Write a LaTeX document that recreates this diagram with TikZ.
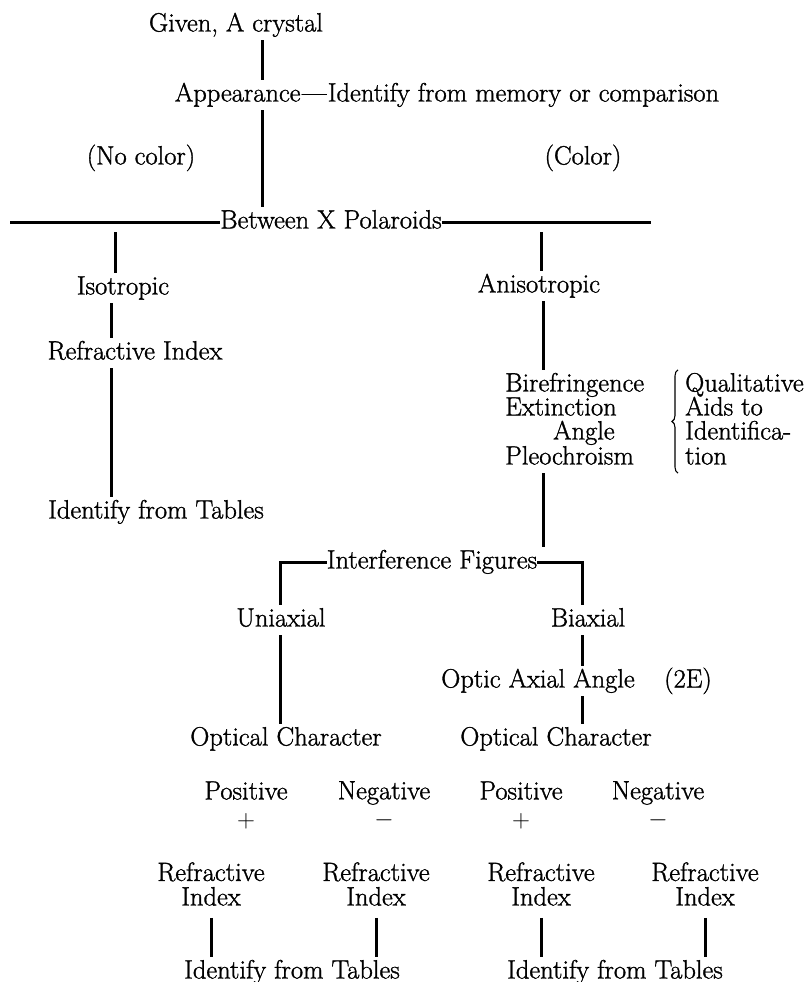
\documentclass[tikz,border=0pt]{standalone}
\usepackage{fontspec}
\setmainfont{Latin Modern Roman}[FakeBold=1.2]
\usetikzlibrary{decorations.pathreplacing}
\tikzset{
  lbl/.style={inner xsep=0pt, inner ysep=3pt, text height=18.5pt, text depth=5.5pt,
              font=\fontsize{26.5}{24.5}\selectfont},
  lbltwo/.style={inner xsep=0pt, inner ysep=12pt, align=center,
              font=\fontsize{26.5}{24.5}\selectfont},
  conn/.style={line width=3pt},
  bracestyle/.style={decorate, decoration={brace, amplitude=6pt}, line width=1.1pt}
}
\begin{document}
\begin{tikzpicture}[x=1pt,y=-1pt]
\useasboundingbox (0,0) rectangle (806,982);
% column coordinates
\coordinate (x1) at (262,0);
\coordinate (x2) at (111,0);
\coordinate (x3) at (543,0);
\coordinate (xu) at (280,0);
\coordinate (xb) at (582,0);
\coordinate (hl) at (10,222);
\coordinate (hr) at (651,222);
\coordinate (tl) at (115,232);
\coordinate (tr) at (541,232);
% nodes
\node[lbl] (given) at (236,25) {Given, A crystal};
\node[lbl] (app) at (447,95) {Appearance\kern1.5pt---\kern1.5pt Identify from memory or comparison};
\node[lbl] (nocol) at (141,158) {(No color)};
\node[lbl] (col) at (583,158) {(Color)};
\node[lbl] (betw) at (331,222) {Between X Polaroids};
\node[lbl] (iso) at (123,288) {Isotropic};
\node[lbl] (aniso) at (539,286) {Anisotropic};
\node[lbl] (ri0) at (135,353) {Refractive Index};
\node[lbl] (id0) at (156,512) {Identify from Tables};
\node[lbl,anchor=west] (bire) at (505,385) {Birefringence};
\node[lbl,anchor=west] (ext) at (505,409) {Extinction};
\node[lbl,anchor=west] (ang) at (553,433) {Angle};
\node[lbl,anchor=west] (pleo) at (505,458) {Pleochroism};
\node[lbl,anchor=west] (q1) at (685,385) {Qualitative};
\node[lbl,anchor=west] (q2) at (685,409) {Aids to};
\node[lbl,anchor=west] (q3) at (685,433) {Identifica-};
\node[lbl,anchor=west] (q4) at (685,458) {tion};
\node[lbl] (interf) at (432,562) {Interference Figures};
\node[lbl] (uni) at (281,620) {Uniaxial};
\node[lbl] (bi) at (588,620) {Biaxial};
\node[lbl] (oa) at (538,681) {Optic Axial Angle};
\node[lbl] (twoe) at (688,681) {(2E)};
\node[lbl] (oc1) at (286,739) {Optical Character};
\node[lbl] (oc2) at (556,739) {Optical Character};
\node[lbltwo] (p1) at (246,805) {Positive\\[3pt]$+$};
\node[lbltwo] (n1) at (384,805) {Negative\\[3pt]$-$};
\node[lbltwo] (p2) at (521,805) {Positive\\[3pt]$+$};
\node[lbltwo] (n2) at (658,805) {Negative\\[3pt]$-$};
\node[lbltwo] (ri1) at (211,884) {Refractive\\Index};
\node[lbltwo] (ri2) at (376,884) {Refractive\\Index};
\node[lbltwo] (ri3) at (541,884) {Refractive\\Index};
\node[lbltwo] (ri4) at (705,884) {Refractive\\Index};
\node[lbl] (id1) at (292,972) {Identify from Tables};
\node[lbl] (id2) at (615,972) {Identify from Tables};
% connectors
\draw[conn] (given.south -| x1) -- (app.north -| x1);
\draw[conn] (app.south -| x1) -- (betw.north -| x1);
\draw[conn] (hl) -- (betw.west);
\draw[conn] (betw.east) -- (hr);
\draw[conn] (tl) -- (iso.north -| tl);
\draw[conn] (tr) -- (aniso.north -| tr);
\draw[conn] (iso.south -| x2) -- (ri0.north -| x2);
\draw[conn] (ri0.south -| x2) -- (id0.north -| x2);
\draw[conn] (aniso.south -| x3) -- (bire.north -| x3);
\draw[conn] (pleo.south -| x3) -- (interf.north -| x3);
\draw[conn] (interf.west) -| (uni.north -| xu);
\draw[conn] (interf.east) -| (bi.north -| xb);
\draw[conn] (uni.south -| xu) -- (oc1.north -| xu);
\draw[conn] (bi.south -| xb) -- (oa.north -| xb);
\draw[conn] (oa.south -| xb) -- (oc2.north -| xb);
\draw[conn] (ri1.south) -- (id1.north -| ri1.south);
\draw[conn] (ri2.south) -- (id1.north -| ri2.south);
\draw[conn] (ri3.south) -- (id2.north -| ri3.south);
\draw[conn] (ri4.south) -- (id2.north -| ri4.south);
% brace
\draw[bracestyle] (q4.south west) ++(-7,0) coordinate (bb) -- (bb |- q1.north);
\end{tikzpicture}
\end{document}
